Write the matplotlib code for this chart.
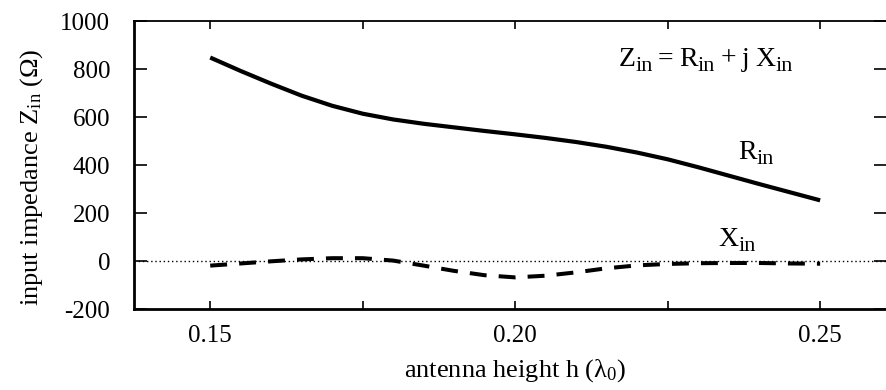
import matplotlib
matplotlib.use("Agg")
import matplotlib.pyplot as plt

plt.rcParams['font.family'] = ['Liberation Serif', 'DejaVu Serif']
plt.rcParams['mathtext.fontset'] = 'custom'
plt.rcParams['mathtext.rm'] = 'Liberation Serif'
plt.rcParams['mathtext.it'] = 'Liberation Serif:italic'
plt.rcParams['mathtext.default'] = 'regular'
plt.rcParams['axes.unicode_minus'] = False

# antenna height (wavelengths)
h = [0.150, 0.155, 0.160, 0.165, 0.170, 0.175, 0.180, 0.185, 0.190, 0.195, 0.200,
     0.205, 0.210, 0.215, 0.220, 0.225, 0.230, 0.235, 0.240, 0.245, 0.250]
# input resistance R_in (ohm)
r_in = [849, 793, 740, 690, 648, 615, 591, 573, 558, 543, 529,
        514, 497, 477, 453, 425, 392, 357, 322, 288, 254]
# input reactance X_in (ohm)
x_in = [-18, -9, 0, 8, 13, 13, 3, -18, -40, -58, -67,
        -60, -46, -29, -17, -11, -8, -7, -7, -9, -10]

x_ticks = [0.15, 0.20, 0.25]
x_tick_labels = ['0.15', '0.20', '0.25']
x_minor = [0.175, 0.225]
y_ticks = [-200, 0, 200, 400, 600, 800, 1000]


def sub_text(ax, x, y, parts, size=20, sub_size=16, drop=3):
    # parts: (string, is_subscript, gap before in points)
    base = None
    prev = None
    for s, is_sub, gap in parts:
        if base is None:
            base = ax.text(x, y, s, fontsize=size, ha='left', va='bottom')
            prev = base
            continue
        prev = ax.annotate(s, xy=(1, 0), xycoords=(prev, base),
                           xytext=(gap, -drop if is_sub else 0),
                           textcoords='offset points',
                           fontsize=sub_size if is_sub else size,
                           ha='left', va='bottom')
    return base


fig = plt.figure(figsize=(8.86, 3.90), dpi=100)
ax = fig.add_axes([0.1512, 0.2069, 0.8488, 0.7385])

ax.axhline(0, color='black', lw=1.0, ls=(0, (1, 2)), zorder=1)
ax.plot(h, r_in, color='black', lw=3.0, solid_capstyle='butt', solid_joinstyle='round', zorder=3)
ax.plot(h, x_in, color='black', lw=2.9, dashes=(4.2, 3.0), dash_capstyle='butt', zorder=3)

ax.set_xlim(0.1375, 0.2608)
ax.set_ylim(-200, 1000)
ax.set_xticks(x_ticks)
ax.set_xticklabels(x_tick_labels)
ax.set_xticks(x_minor, minor=True)
ax.set_yticks(y_ticks)

ax.tick_params(axis='x', which='both', direction='in', length=6, width=1.2,
               top=True, bottom=True, labelsize=18, pad=11)
ax.tick_params(axis='y', which='both', direction='in', length=9, width=1.2,
               left=True, right=True, labelsize=18, pad=17)

ax.spines['left'].set_linewidth(2.0)
ax.spines['bottom'].set_linewidth(2.0)
ax.spines['top'].set_linewidth(1.3)
ax.spines['right'].set_visible(False)

ax.set_xlabel(r'antenna height h ($\lambda_0$)', fontsize=19)
ax.set_ylabel(r'input impedance Z$_{\rm in}$ ($\Omega$)', fontsize=19)
ax.xaxis.set_label_coords(0.507, -0.165)
ax.yaxis.set_label_coords(-0.118, 0.46)

sub_text(ax, 0.2169, 790, [('Z', False, 0), ('in', True, 0), ('=', False, 4),
                           ('R', False, 4), ('in', True, 0), ('+', False, 4),
                           ('j', False, 4), ('X', False, 4), ('in', True, 0)])
sub_text(ax, 0.2366, 400, [('R', False, 0), ('in', True, 0)])
sub_text(ax, 0.2333, 40, [('X', False, 0), ('in', True, 0)])

fig.savefig('out.png', dpi=100)
